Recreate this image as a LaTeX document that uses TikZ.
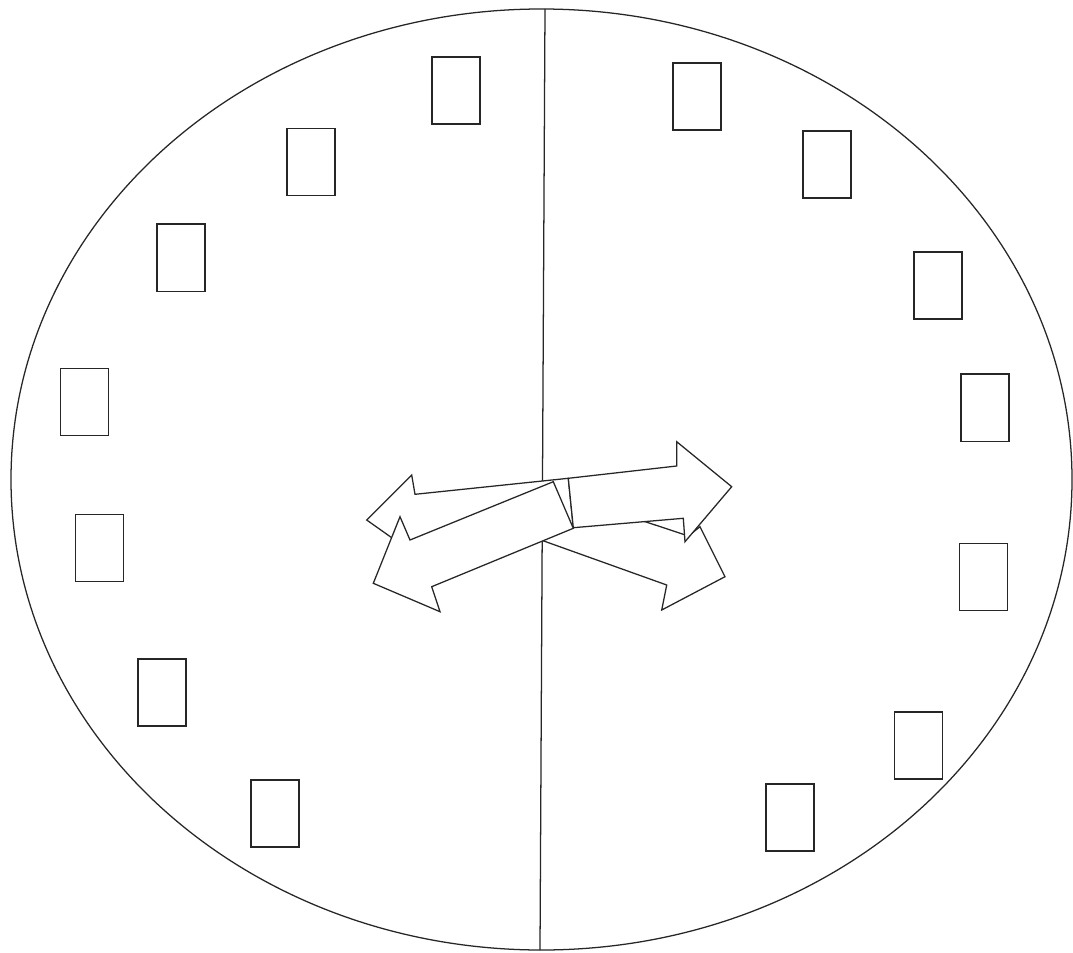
\documentclass[tikz,border=0pt]{standalone}
\usepackage{tikz}
\usetikzlibrary{positioning}

\begin{document}
\begin{tikzpicture}[
    x=0.025cm, y=-0.025cm,
    face/.style={draw=black!85, line width=0.9pt},
    numbox/.style={draw=black!85, line width=1.1pt, fill=white,
                   minimum width=1.2cm, minimum height=1.68cm, inner sep=0pt},
    hand/.style={draw=black!85, line width=0.9pt, fill=white, line join=miter}
  ]
  \fill[white] (0,0) rectangle (1073,953);
  \useasboundingbox (0,0) rectangle (1073,953);

  % clock face
  \node[inner sep=0pt] (centre) at (541.5,479.5) {};
  \draw[face] (centre) ellipse [x radius=530.5, y radius=470.5];
  \coordinate (top) at (545,9);
  \coordinate (bottom) at (540,950);
  \draw[face] (top) -- (bottom);

  % hour boxes
  \foreach \name/\pos in {l1/{(456,90.5)}, l2/{(311,162)}, l3/{(181,257.7)},
      l4/{(84.5,402)}, l5/{(99.5,548)}, l6/{(162,692.5)}, l7/{(275,813.5)},
      r1/{(697,96.5)}, r2/{(827,164.5)}, r3/{(938,285.5)}, r4/{(985,407.7)},
      r5/{(983.5,577)}, r6/{(918.5,745.5)}, r7/{(790,817.5)}}
    \node[numbox] (\name) at \pos {};

  % hands
  \draw[hand] (539.3,486.4) -- (688.3,536) -- (700,526.7) -- (725,576.7)
    -- (661.7,610) -- (666.7,585) -- (523.1,533.6) -- cycle;
  \draw[hand] (568.3,478.3) -- (415,494.3) -- (411.7,475) -- (366.7,520)
    -- (426,562) -- (420,544) -- (573.3,527.7) -- cycle;
  \draw[hand] (568.3,478.3) -- (676.7,466) -- (676.7,441.7) -- (731.7,486.7)
    -- (685,541.7) -- (683.3,518.3) -- (573.3,527.7) -- cycle;
  \draw[hand] (553.3,481.7) -- (410,540) -- (400,516.7) -- (373.3,583.3)
    -- (440,611.7) -- (431.7,586.7) -- (573.3,528.3) -- cycle;
\end{tikzpicture}
\end{document}
